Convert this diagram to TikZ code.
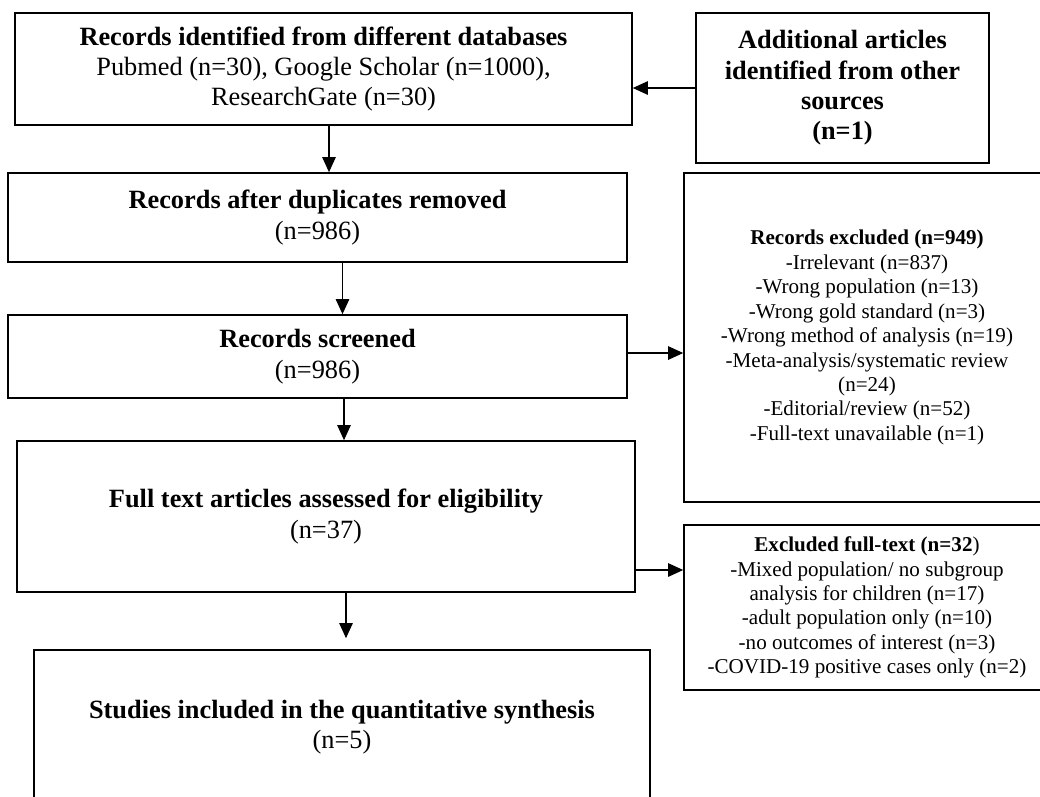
\documentclass[tikz,border=0pt]{standalone}
\usepackage{fontspec}
\setmainfont{Liberation Serif}
\usepackage{tikz}
\usetikzlibrary{arrows.meta,positioning,calc}
\newcommand{\BoxFont}{\fontsize{15}{17.3}\selectfont}
\newcommand{\SideFont}{\fontsize{12}{13.9}\selectfont}
\tikzset{
  flowbox/.style={draw, line width=1pt, inner sep=0pt, align=center, font=\BoxFont},
  sidebox/.style={draw, line width=1pt, inner sep=0pt, align=center, font=\SideFont},
  arr/.style={-{Triangle[length=3mm,width=2.7mm]}, line width=0.6pt}
}

\begin{document}
\begin{tikzpicture}[x=0.02cm,y=-0.02cm]
  \useasboundingbox (0,0) rectangle (1040,796);
  % main column
  \path (323.5,69) node (ident) [flowbox, minimum width=12.34cm, minimum height=2.24cm]
    {\textbf{Records identified from different databases}\\Pubmed (n=30), Google Scholar (n=1000),\\ResearchGate (n=30)};
  \path (317.5,217.5) node (dup) [flowbox, minimum width=12.38cm, minimum height=1.78cm]
    {\textbf{Records after duplicates removed}\\(n=986)};
  \path (317.5,356.5) node (screen) [flowbox, minimum width=12.38cm, minimum height=1.66cm]
    {\textbf{Records screened}\\(n=986)};
  \path (326,516.5) node (full) [flowbox, minimum width=12.36cm, minimum height=3.02cm]
    {\textbf{Full text articles assessed for eligibility}\\(n=37)};
  \path (342,727) node (incl) [flowbox, minimum width=12.32cm, minimum height=3.08cm]
    {\textbf{Studies included in the quantitative synthesis}\\(n=5)};
  % side boxes
  \path (842.5,88) node (add) [flowbox, minimum width=5.86cm, minimum height=3.0cm]
    {\textbf{Additional articles}\\\textbf{identified from other}\\\textbf{sources}\\\textbf{(n=1)}};
  \path (867,337.5) node (exclrec) [sidebox, minimum width=7.32cm, minimum height=6.58cm]
    {\textbf{Records excluded (n=949)}\\-Irrelevant (n=837)\\-Wrong population (n=13)\\-Wrong gold standard (n=3)\\-Wrong method of analysis (n=19)\\-Meta-analysis/systematic review\\(n=24)\\-Editorial/review (n=52)\\-Full-text unavailable (n=1)};
  \path (867,607.5) node (exclfull) [sidebox, minimum width=7.32cm, minimum height=3.3cm]
    {\textbf{Excluded full-text (n=32})\\-Mixed population/ no subgroup\\analysis for children (n=17)\\-adult population only (n=10)\\-no outcomes of interest (n=3)\\-COVID-19 positive cases only (n=2)};
  % connectors
  \draw[arr] ([xshift=0.11cm]ident.south) -- ([xshift=0.11cm]ident.south |- dup.north);
  \draw[arr] ([xshift=0.5cm]dup.south) -- ([xshift=0.5cm]dup.south |- screen.north);
  \draw[arr] ([xshift=0.53cm]screen.south) -- ([xshift=0.53cm]screen.south |- full.north);
  \draw[arr, shorten >=0.22cm] ([xshift=0.4cm]full.south) -- ([xshift=0.4cm]full.south |- incl.north);
  \draw[arr] (add.west) -- (add.west -| ident.east);
  \draw[arr] ([yshift=0.07cm]screen.east) -- ([yshift=0.07cm]screen.east -| exclrec.west);
  \draw[arr] ([yshift=-1.07cm]full.east) -- ([yshift=-1.07cm]full.east -| exclfull.west);
\end{tikzpicture}
\end{document}
